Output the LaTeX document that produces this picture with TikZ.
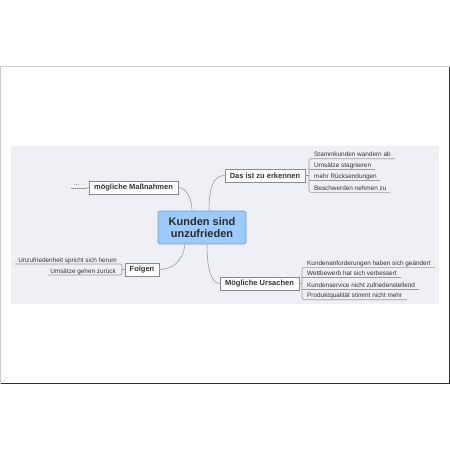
\documentclass[tikz,border=0pt]{standalone}
\usepackage{fontspec}
\setmainfont{Liberation Sans}
\definecolor{bgc}{HTML}{EEF0F6}
\definecolor{centerfill}{HTML}{9CCBFB}
\definecolor{centerdraw}{HTML}{7C9CC0}
\definecolor{linec}{HTML}{9A9A9A}
\definecolor{boxdraw}{HTML}{8A8A8A}
\definecolor{txt}{HTML}{333333}
\tikzset{
  topicbox/.style={draw=boxdraw, fill=white, line width=0.6pt, inner sep=0pt, font=\fontsize{7.5}{9}\selectfont\bfseries, text=txt},
  centerbox/.style={draw=centerdraw, fill=centerfill, line width=0.6pt, rounded corners=1.5pt, inner sep=0pt, minimum width=88pt, minimum height=33pt, align=center, font=\fontsize{11}{12}\selectfont\bfseries, text=txt!85!black},
  leaftext/.style={inner sep=0pt, font=\fontsize{6.4}{7}\selectfont, text=txt, anchor=base west},
  leaftextl/.style={inner sep=0pt, font=\fontsize{6.4}{7}\selectfont, text=txt, anchor=base east},
  uline/.style={draw=linec, line width=0.6pt},
  conn/.style={draw=linec, line width=0.6pt},
}
\begin{document}
\begin{tikzpicture}[x=1pt,y=-1pt]
\useasboundingbox (0,0) rectangle (450,450);
% page frame
\draw[draw=black!20, line width=0.8pt] (0.5,383.5) -- (0.5,66.5) -- (449,66.5);
\draw[draw=black!80, line width=0.8pt] (0.5,383.5) -- (449,383.5) -- (449,66.5);
% background
\fill[bgc] (11,146) rectangle (439,303.5);

% nodes
\node[centerbox] (c) at (202,227.5) {Kunden sind\\unzufrieden};
\node[topicbox, minimum width=80pt, minimum height=13pt] (das) at (265,175.5) {Das ist zu erkennen};
\node[topicbox, minimum width=89pt, minimum height=13pt] (mass) at (133.5,187.5) {mögliche Maßnahmen};
\node[topicbox, minimum width=34pt, minimum height=13pt] (fol) at (142,269.5) {Folgen};
\node[topicbox, minimum width=79pt, minimum height=13pt] (urs) at (259.5,283.5) {Mögliche Ursachen};

% main connectors
\draw[conn] ([xshift=-10pt]c.north) .. controls +(0,-12) and +(8,0) .. (mass.east);
\draw[conn] ([xshift=7pt]c.north) .. controls +(0,-26) and +(-10,0) .. (das.west);
\draw[conn] ([xshift=-17pt]c.south) .. controls +(-2,18) and +(12,0) .. (fol.east);
\draw[conn] ([xshift=5pt]c.south) .. controls +(0,26) and +(-8,0) .. (urs.west);

% leaves of "Das ist zu erkennen"
\coordinate (d0) at (309,175.5);
\coordinate (d1s) at (309,158.7); \coordinate (d1e) at (395,158.7);
\coordinate (d2s) at (309,169.7); \coordinate (d2e) at (375,169.7);
\coordinate (d3s) at (309,180.7); \coordinate (d3e) at (380,180.7);
\coordinate (d4s) at (309,192.3); \coordinate (d4e) at (390,192.3);
\draw[conn] (das.east) -- (d0);
\draw[uline, rounded corners=2pt] (d1e) -- (d1s) -- (d4s) -- (d4e);
\draw[uline] (d2s) -- (d2e);
\draw[uline] (d3s) -- (d3e);
\node[leaftext] (l1) at (314,156.7) {Stammkunden wandern ab};
\node[leaftext] (l2) at (314,167.7) {Umsätze stagnieren};
\node[leaftext] (l3) at (314,178.7) {mehr Rücksendungen};
\node[leaftext] (l4) at (314,190.3) {Beschwerden nehmen zu};

% leaves of "Mögliche Ursachen"
\coordinate (u0) at (302,283.5);
\coordinate (u1s) at (302,267.3); \coordinate (u1e) at (435,267.3);
\coordinate (u2s) at (302,277.7); \coordinate (u2e) at (401,277.7);
\coordinate (u3s) at (302,289); \coordinate (u3e) at (419,289);
\coordinate (u4s) at (302,299.7); \coordinate (u4e) at (407,299.7);
\draw[conn] (urs.east) -- (u0);
\draw[uline, rounded corners=2pt] (u1e) -- (u1s) -- (u4s) -- (u4e);
\draw[uline] (u2s) -- (u2e);
\draw[uline] (u3s) -- (u3e);
\node[leaftext] (m1) at (307,265.3) {Kundenanforderungen haben sich geändert};
\node[leaftext] (m2) at (307,275.7) {Wettbewerb hat sich verbessert};
\node[leaftext] (m3) at (307,287) {Kundenservice nicht zufriedenstellend};
\node[leaftext] (m4) at (307,297.7) {Produktqualität stimmt nicht mehr};

% leaves of "Folgen"
\coordinate (f0) at (122,269.5);
\coordinate (f1s) at (122,264); \coordinate (f1e) at (15,264);
\coordinate (f2s) at (122,275); \coordinate (f2e) at (48,275);
\draw[conn] (fol.west) -- (f0);
\draw[uline, rounded corners=2pt] (f1e) -- (f1s) -- (f2s) -- (f2e);
\node[leaftextl] (n1) at (117,262) {Unzufriedenheit spricht sich herum};
\node[leaftextl] (n2) at (116,273) {Umsätze gehen zurück};

% leaf of "mögliche Maßnahmen"
\coordinate (p1s) at (87,188); \coordinate (p1e) at (71,188);
\draw[conn] (mass.west) -- (p1s);
\draw[uline] (p1s) -- (p1e);
\node[leaftext] (q1) at (74,185.5) {...};
\end{tikzpicture}
\end{document}
